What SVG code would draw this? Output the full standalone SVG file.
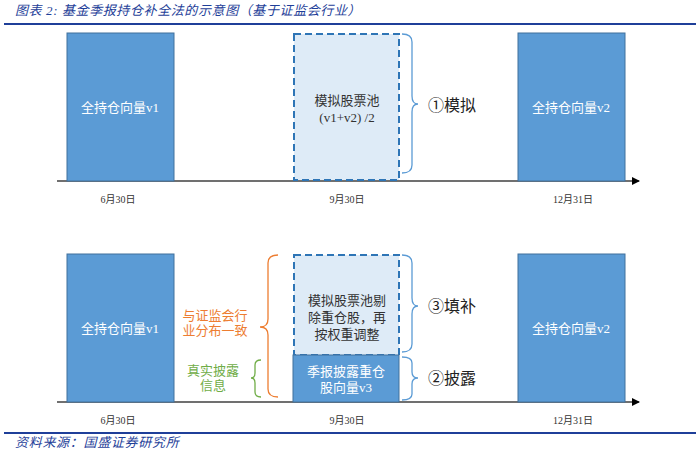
<svg xmlns="http://www.w3.org/2000/svg" width="700" height="454" viewBox="0 0 700 454">
<defs>
<marker id="arr" markerWidth="8" markerHeight="8" refX="7" refY="4" orient="auto" markerUnits="userSpaceOnUse">
<path d="M0,0 L8,4 L0,8 Z" fill="#000"/>
</marker>
<style>
.t{font-family:"Liberation Serif","Noto Sans CJK SC",serif;}
.box{fill:#5b9bd5;stroke:#41719c;stroke-width:1;}
.dash{fill:#deebf7;stroke:#2e75b6;stroke-width:2;stroke-dasharray:7,4;}
.wt{fill:#fff;font-size:13px;text-anchor:middle;}
.dk{fill:#333;font-size:13px;text-anchor:middle;}
.date{fill:#333;font-size:10px;text-anchor:middle;}
.lbl{fill:#222;font-size:16px;}
.bb{fill:none;stroke:#5b9bd5;stroke-width:1.3;}
.axis{stroke:#404040;stroke-width:1.5;fill:none;}
.hdr{fill:#1f3f99;font-size:13px;font-style:italic;}
</style>
</defs>
<rect x="0" y="0" width="700" height="454" fill="#fff"/>
<g id="title">
<text class="t hdr" x="15" y="15" letter-spacing="0.6">图表 2:  基金季报持仓补全法的示意图（基于证监会行业）</text>
<line x1="4" y1="24" x2="696" y2="24" stroke="#1f3f99" stroke-width="2"/>
</g>
<g id="connectors">
<line class="axis" x1="57" y1="181" x2="639" y2="181" marker-end="url(#arr)"/>
<line class="axis" x1="57" y1="402" x2="639" y2="402" marker-end="url(#arr)"/>
<path class="bb" d="M402,34 q10,0 10,8 V96 q0,8 6,8 q-6,0 -6,8 V165 q0,8 -10,8"/>
<path class="bb" d="M402,255 q10,0 10,8 V298 q0,8 6,8 q-6,0 -6,8 V344 q0,8 -10,8"/>
<path class="bb" d="M402,357 q10,0 10,6 V372 q0,6 6,6 q-6,0 -6,6 V394 q0,6 -10,6"/>
<path fill="none" stroke="#ed7d31" stroke-width="1.3" d="M278,255 q-10,0 -10,8 V319 q0,8 -8,8 q8,0 8,8 V389 q0,8 10,8"/>
<path fill="none" stroke="#70ad47" stroke-width="1.3" d="M261,360 q-6,0 -6,5 V373 q0,5 -4,5 q4,0 4,5 V392 q0,5 6,5"/>
</g>
<g id="v1-top">
<rect class="box" x="67" y="33" width="107" height="148"/>
<text class="t wt" x="120" y="112">全持仓向量v1</text>
</g>
<g id="sim-top">
<rect class="dash" x="294" y="34" width="105" height="146"/>
<text class="t dk" x="347" y="105">模拟股票池</text>
<text class="t dk" x="347" y="122">(v1+v2) /2</text>
</g>
<g id="v2-top">
<rect class="box" x="518" y="33" width="107" height="148"/>
<text class="t wt" x="571" y="112">全持仓向量v2</text>
</g>
<g id="label-sim">
<text class="t lbl" x="428" y="111">①模拟</text>
</g>
<g id="dates-top">
<text class="t date" x="118" y="203">6月30日</text>
<text class="t date" x="347" y="203">9月30日</text>
<text class="t date" x="573" y="203">12月31日</text>
</g>
<g id="v1-bot">
<rect class="box" x="67" y="254" width="107" height="148"/>
<text class="t wt" x="120" y="333">全持仓向量v1</text>
</g>
<g id="fill-bot">
<rect class="dash" x="294" y="255" width="105" height="100"/>
<text class="t dk" x="347" y="305">模拟股票池剔</text>
<text class="t dk" x="347" y="322">除重仓股，再</text>
<text class="t dk" x="347" y="339">按权重调整</text>
</g>
<g id="v3-bot">
<rect class="box" x="293" y="355" width="106" height="47" stroke="#2e75b6"/>
<text class="t wt" x="346" y="376">季报披露重仓</text>
<text class="t wt" x="346" y="392">股向量v3</text>
</g>
<g id="v2-bot">
<rect class="box" x="518" y="254" width="107" height="148"/>
<text class="t wt" x="571" y="333">全持仓向量v2</text>
</g>
<g id="label-fill">
<text class="t lbl" x="428" y="312">③填补</text>
</g>
<g id="label-disc">
<text class="t lbl" x="428" y="384">②披露</text>
</g>
<g id="orange-label">
<text class="t" x="215" y="320" fill="#ed7d31" font-size="13" text-anchor="middle">与证监会行</text>
<text class="t" x="215" y="335" fill="#ed7d31" font-size="13" text-anchor="middle">业分布一致</text>
</g>
<g id="green-label">
<text class="t" x="213" y="375" fill="#70ad47" font-size="13" text-anchor="middle">真实披露</text>
<text class="t" x="213" y="390" fill="#70ad47" font-size="13" text-anchor="middle">信息</text>
</g>
<g id="dates-bot">
<text class="t date" x="118" y="424">6月30日</text>
<text class="t date" x="347" y="424">9月30日</text>
<text class="t date" x="573" y="424">12月31日</text>
</g>
<g id="footer">
<line x1="4" y1="433" x2="696" y2="433" stroke="#1f3f99" stroke-width="2"/>
<text class="t hdr" x="15" y="447" letter-spacing="0.7">资料来源：国盛证券研究所</text>
</g>
</svg>
